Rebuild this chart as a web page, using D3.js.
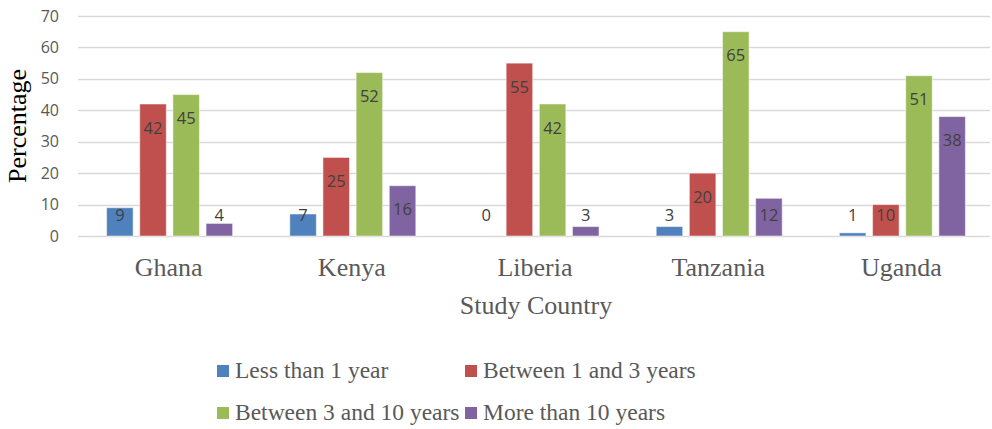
<!DOCTYPE html>
<meta charset="utf-8">
<style>
html, body { margin: 0; background: #fff; }
svg { display: block; }
.grid line { stroke: #d9d9d9; stroke-width: 1.3px; }
.tick-label { font-family: "Open Sans", sans-serif; font-size: 16px; fill: #595959; }
.bar-label { font-family: "Open Sans", sans-serif; font-size: 16.5px; fill: #404040; }
.serif { font-family: "Liberation Serif", "Times New Roman", serif; font-size: 26px; fill: #595959; }
.legend-text { font-family: "Liberation Serif", "Times New Roman", serif; font-size: 23.5px; fill: #595959; }
</style>
<body>
<svg id="chart" width="992" height="429"></svg>
</body>
<script src="https://cdn.jsdelivr.net/npm/d3@7"></script>
<script>

var countries = ["Ghana", "Kenya", "Liberia", "Tanzania", "Uganda"]
var seriesNames = ["Less than 1 year", "Between 1 and 3 years", "Between 3 and 10 years", "More than 10 years"]
var seriesColors = ["#4f81bd", "#c0504d", "#9bbb59", "#8064a2"]
var lessThan1 = [9, 7, 0, 3, 1]
var between1and3 = [42, 25, 55, 20, 10]
var between3and10 = [45, 52, 42, 65, 51]
var moreThan10 = [4, 16, 3, 12, 38]
var yTicks = [0, 10, 20, 30, 40, 50, 60, 70]

var seriesValues = [lessThan1, between1and3, between3and10, moreThan10]

var svg = d3.select("#chart")
var plotLeft = 78, plotRight = 994, plotTop = 16, plotBottom = 236
var groupWidth = 126

var x = d3.scaleBand().domain(countries).range([plotLeft, plotRight])
var xInner = d3.scaleBand().domain(d3.range(4)).range([0, groupWidth]).paddingInner(0.2)
var y = d3.scaleLinear().domain([0, 70]).range([plotBottom, plotTop])

// gridlines
svg.append("g").attr("class", "grid")
  .selectAll("line").data(yTicks).enter().append("line")
  .attr("x1", plotLeft).attr("x2", 990)
  .attr("y1", function(d) { return Math.round(y(d)) + 0.5 })
  .attr("y2", function(d) { return Math.round(y(d)) + 0.5 })

// y tick labels
svg.append("g").selectAll("text").data(yTicks).enter().append("text")
  .attr("class", "tick-label")
  .attr("x", 59).attr("y", function(d) { return y(d) })
  .attr("dy", "0.35em")
  .attr("text-anchor", "end")
  .text(function(d) { return d })

// bars
var groups = svg.append("g").selectAll("g").data(countries).enter().append("g")
  .attr("transform", function(c) { return "translate(" + (x(c) + x.bandwidth() / 2 - groupWidth / 2) + ",0)" })

groups.each(function(c, ci) {
  var g = d3.select(this)
  seriesValues.forEach(function(vals, si) {
    var v = vals[ci]
    if (v > 0) {
      g.append("rect")
        .attr("x", xInner(si))
        .attr("y", y(v))
        .attr("width", xInner.bandwidth())
        .attr("height", y(0) - y(v))
        .attr("fill", seriesColors[si])
        .attr("stroke", "#fff")
        .attr("stroke-opacity", 0.5)
        .attr("stroke-width", 1)
    }
    g.append("text")
      .attr("class", "bar-label")
      .attr("x", xInner(si) + xInner.bandwidth() / 2)
      .attr("y", Math.min(y(v) + 24, y(0) - 21))
      .attr("dy", "0.35em")
      .attr("text-anchor", "middle")
      .text(v)
  })
})

// category labels
svg.append("g").selectAll("text").data(countries).enter().append("text")
  .attr("class", "serif")
  .attr("x", function(c) { return x(c) + x.bandwidth() / 2 - 1 })
  .attr("y", 276)
  .attr("text-anchor", "middle")
  .text(function(c) { return c })

// axis titles
svg.append("text").attr("class", "serif")
  .attr("x", 536).attr("y", 314).attr("text-anchor", "middle")
  .text("Study Country")

svg.append("text").attr("class", "serif")
  .attr("transform", "translate(26,126) rotate(-90)")
  .attr("text-anchor", "middle")
  .style("fill", "#000")
  .text("Percentage")

// legend
var legendPos = [[217, 378], [465, 378], [217, 420], [465, 420]]
var legend = svg.append("g").selectAll("g").data(seriesNames).enter().append("g")
  .attr("transform", function(d, i) { return "translate(" + legendPos[i][0] + "," + legendPos[i][1] + ")" })
legend.append("rect")
  .attr("x", 0).attr("y", -13).attr("width", 12).attr("height", 12)
  .attr("fill", function(d, i) { return seriesColors[i] })
legend.append("text").attr("class", "legend-text")
  .attr("x", 18).attr("y", 0)
  .text(function(d) { return d })

</script>
